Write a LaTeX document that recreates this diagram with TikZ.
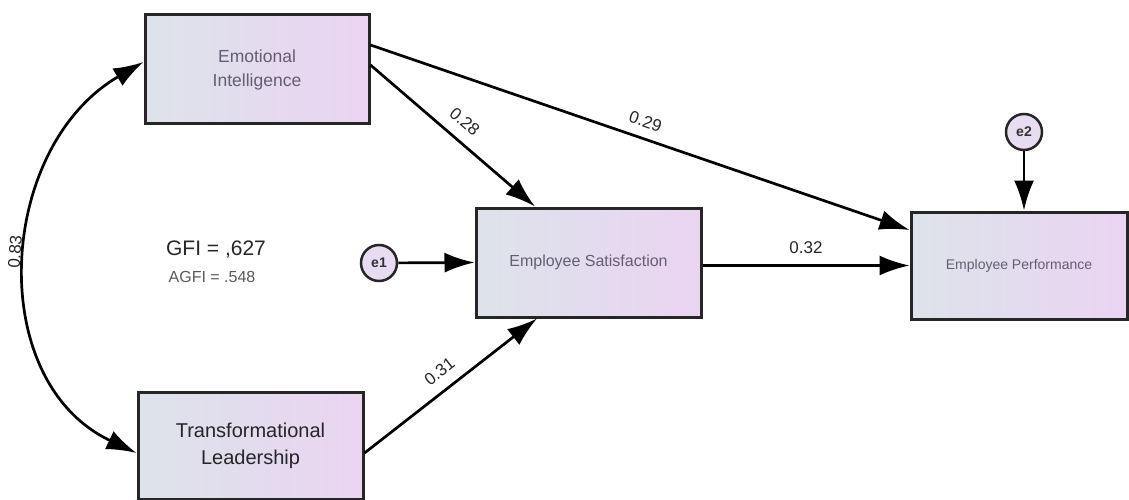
\documentclass[tikz,border=0pt]{standalone}
\usepackage{fontspec}
\setmainfont{Liberation Sans}
\usetikzlibrary{arrows.meta}
\definecolor{boxl}{HTML}{DDE3EA}
\definecolor{boxr}{HTML}{EAD4F2}
\definecolor{errfill}{HTML}{E8DCF2}
\definecolor{lbl}{HTML}{655E72}
\begin{document}
\begin{tikzpicture}[x=1pt,y=-1pt]
			\tikzstyle{var}=[rectangle,draw=black!85,line width=3pt,left color=boxl,right color=boxr,inner sep=0pt,align=center,text=lbl]
			\tikzstyle{err}=[circle,draw=black!85,line width=2.5pt,fill=errfill,minimum size=36pt,inner sep=0pt,font=\fontsize{14}{14}\selectfont\bfseries,text=black!80]
			\tikzstyle{arr}=[-{Latex[length=30pt,width=20pt]},line width=2.7pt]
			\tikzstyle{coef}=[sloped,inner sep=0pt,font=\fontsize{17}{17}\selectfont,text=black!85]
			\useasboundingbox (0,0) rectangle (1129,500);
			\begin{scope}
			\node[var,minimum width=224pt,minimum height=109pt,font=\fontsize{17.5}{24}\selectfont] (EI) at (257,69.5) {Emotional\\Intelligence};
			\node[var,minimum width=225pt,minimum height=107pt,font=\fontsize{20}{27}\selectfont,text=black!85] (TL) at (250.5,445.5) {Transformational\\Leadership};
			\node[var,minimum width=225pt,minimum height=109pt,font=\fontsize{16}{16}\selectfont] (ES) at (588.5,262.5) {Employee Satisfaction};
			\node[var,minimum width=216pt,minimum height=107pt,font=\fontsize{14}{14}\selectfont] (EP) at (1019,265.5) {Employee Performance};
			\node[err] (e1) at (379,263) {e1};
			\node[err] (e2) at (1024,132) {e2};
			\node[font=\fontsize{21}{21}\selectfont,text=black!85] (gfi) at (216,250) {GFI = ,627};
			\node[font=\fontsize{16}{16}\selectfont,text=black!65] (agfi) at (212,277) {AGFI = .548};
			\end{scope}
			
			\path[arr]
			([yshift=4.5pt]EI.east) edge node[coef,above=11pt] {0.28} ([xshift=-53.5pt]ES.north)
			([yshift=24.5pt]EI.east) edge node[coef,above=9.5pt] {0.29} ([yshift=35.5pt]EP.west)
			([yshift=-7.5pt]TL.east) edge node[coef,above=11pt] {0.31} ([xshift=-51.5pt]ES.south)
			([yshift=-3pt]ES.east) edge node[coef,above=10pt] {0.32} (EP.west)
			(e1) edge (ES.west)
			(e2) edge ([xshift=5pt]EP.north)
			;
			\draw[{Latex[length=30pt,width=20pt]}-{Latex[length=30pt,width=20pt]},line width=2.7pt]
			([yshift=-7.5pt]TL.west) .. controls (-16,381) and (-3,147) .. ([yshift=7.5pt]EI.west)
			node[coef,pos=0.52,above=6pt] {0.83};
		\end{tikzpicture}
\end{document}
